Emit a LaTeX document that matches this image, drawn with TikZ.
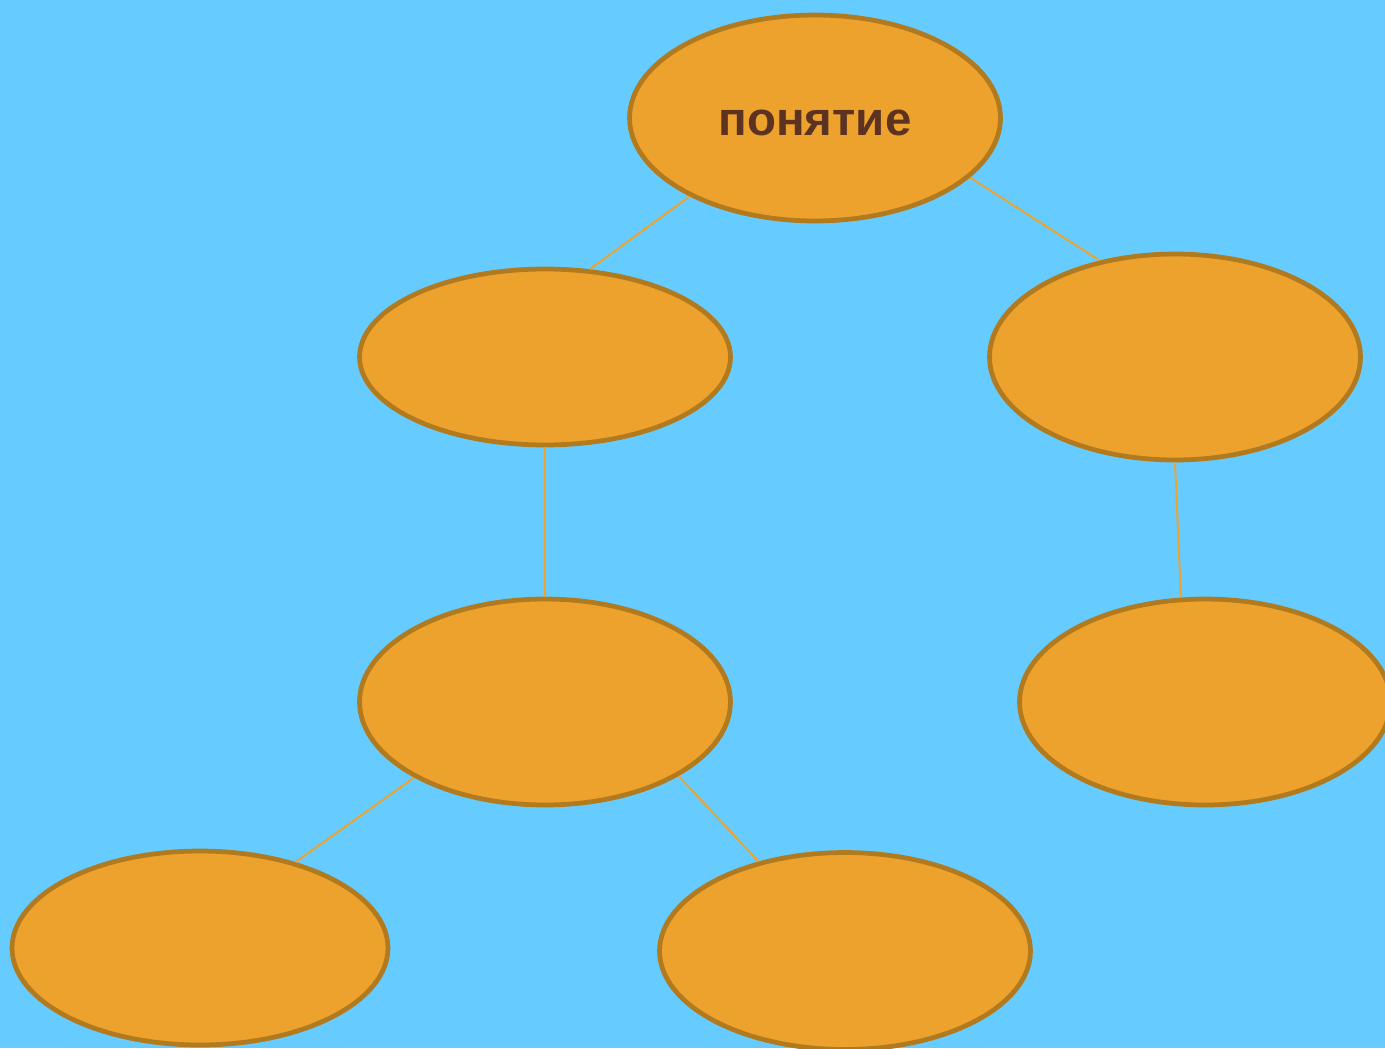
\documentclass[tikz,border=0pt]{standalone}
\usepackage{fontspec}
\setsansfont{Liberation Sans}
\usetikzlibrary{shapes.geometric}
\definecolor{skyback}{HTML}{66CCFF}
\definecolor{amberfill}{HTML}{EEA22E}
\definecolor{amberedge}{HTML}{B17A1E}
\definecolor{cocoa}{HTML}{5B3320}

\begin{document}
\begin{tikzpicture}[x=0.02cm,y=-0.02cm,
  oval/.style={ellipse,draw=amberedge,fill=amberfill,line width=2.7pt,inner sep=0pt,
    minimum width=7.42cm,minimum height=4.12cm},
  link/.style={draw=amberfill,line width=1.1pt}]
\fill[skyback] (0,0) rectangle (1385,1048);
\useasboundingbox (0,0) rectangle (1385,1048);
\clip (0,0) rectangle (1385,1048);
\node[oval,font=\sffamily\bfseries\fontsize{27}{30}\selectfont,text=cocoa,text height=0.72cm] (concept) at (815,118) {понятие};
\node[oval,minimum height=3.52cm] (left) at (545,357) {};
\node[oval] (right) at (1175,357) {};
\node[oval] (leftmid) at (545,702) {};
\node[oval] (rightmid) at (1205,702) {};
\node[oval,minimum width=7.52cm,minimum height=3.88cm] (leftleaf) at (200,948) {};
\node[oval,minimum height=3.94cm] (midleaf) at (845,951) {};
\draw[link] (concept.212) -- (left.63);
\draw[link] (concept.339) -- (right.128);
\draw[link] (left.south) -- (leftmid.north);
\draw[link] (right.south) -- (rightmid.103);
\draw[link] (leftmid.210) -- (leftleaf.42);
\draw[link] (leftmid.331) -- (midleaf.134);
\end{tikzpicture}
\end{document}
